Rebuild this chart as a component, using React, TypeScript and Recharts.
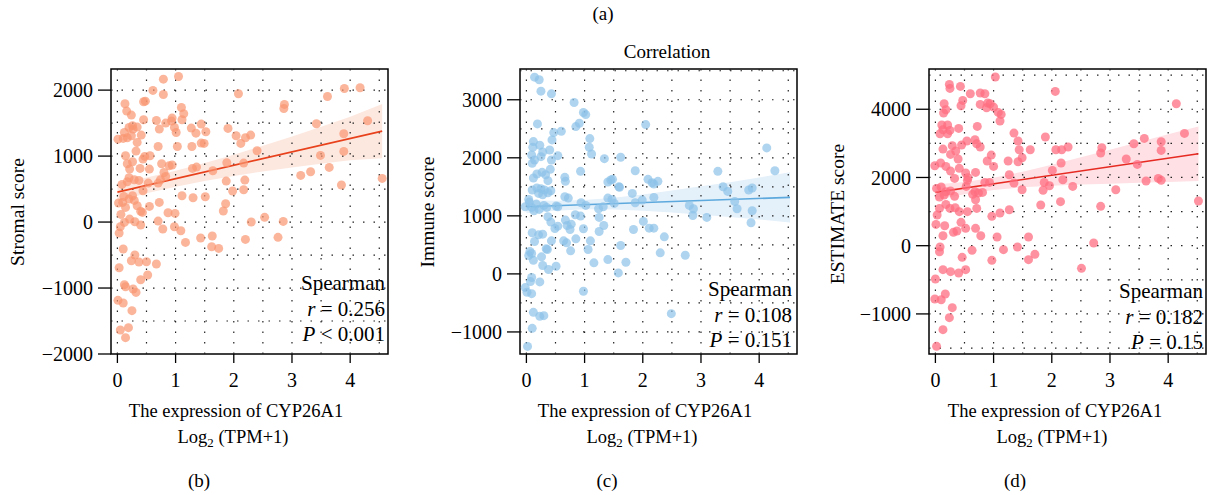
import { ComposedChart, Scatter, Line, Area, XAxis, YAxis, ReferenceLine, ReferenceArea } from 'recharts';

const FONT = '"Liberation Serif", "Times New Roman", serif';

// shared x axis
const X_DOMAIN = [-0.11, 4.65];
const X_TICKS = [0, 1, 2, 3, 4];
const X_GRID = [0, 0.5, 1, 1.5, 2, 2.5, 3, 3.5, 4, 4.5];

// (b) stromal score
const stromalPoints = [
  [1.05, 2207], [0.79, 2166], [0.61, 1995], [0.79, 1934], [2.08, 1944], [3.9, 2025], [4.17, 2035], [3.61, 1904],
  [2.87, 1783], [2.86, 1722], [0.48, 1833], [0.45, 1823], [0.13, 1793], [0.16, 1682], [0.24, 1621], [0.45, 1550],
  [0.67, 1540], [0.94, 1576], [0.93, 1530], [1.1, 1737], [1.14, 1641], [1.11, 1550], [0.83, 1500], [0.72, 1409],
  [0.98, 1434], [1.01, 1358], [1.27, 1424], [1.35, 1348], [1.44, 1485], [1.52, 1369], [1.9, 1419], [2.04, 1308],
  [2.2, 1278], [2.29, 1318], [2.12, 1192], [3.42, 1490], [4.3, 1535], [3.89, 1338], [3.89, 1071], [3.49, 1010],
  [3.64, 828], [3.32, 763], [3.15, 707], [3.85, 561], [4.55, 662], [2.4, 1081], [2.17, 894], [2.19, 636],
  [2.17, 490], [1.98, 470], [1.88, 899], [1.87, 621], [1.64, 778], [1.36, 833], [1.29, 813], [1.11, 399],
  [1.3, 369], [1.51, 384], [1.86, 278], [1.82, 167], [2.3, 0], [2.53, 71], [2.85, 10], [2.76, -232],
  [2.2, -263], [1.63, -212], [1.43, -242], [1.62, -374], [1.74, -399], [1.17, -308], [0.98, -71], [1.09, -131],
  [0.99, 131], [0.87, 141], [0.78, -106], [0.7, 15], [0.72, 298], [0.55, 237], [0.43, 146], [0.4, -45],
  [0.3, 5], [0.21, 45], [0.12, -5], [0.05, -71], [0.03, -167], [0.06, 116], [0.02, 288], [0.11, 389],
  [0.2, 348], [0.29, 328], [0.26, 399], [0.34, 247], [0.44, 475], [0.08, 571], [0.17, 611], [0.2, 672],
  [0.29, 641], [0.37, 631], [0.53, 591], [0.7, 591], [0.74, 641], [0.83, 692], [0.8, 752], [0.76, 884],
  [0.89, 853], [0.94, 864], [0.55, 803], [0.39, 813], [0.21, 803], [0.17, 884], [0.26, 914], [0.14, 1005],
  [0.32, 1076], [0.44, 954], [0.56, 1005], [0.47, 995], [0.7, 1146], [1.03, 1146], [1.28, 1146], [1.44, 1197],
  [1.49, 1192], [0.01, 1257], [0.1, 1268], [0.17, 1278], [0.24, 1308], [0.27, 1409], [0.26, 1459], [0.2, 1434],
  [0.12, 1358], [0.34, 1439], [0.41, 1318], [0.34, 1207], [0.09, 298], [0.14, 222], [0.4, 162], [0.03, -692],
  [0.1, -409], [0.3, -500], [0.24, -586], [0.37, -606], [0.5, -601], [0.67, -636], [0.52, -803], [0.4, -874],
  [0.12, -949], [0.14, -980], [0.27, -1015], [0.32, -1066], [0.01, -1187], [0.1, -1227], [0.25, -1343],
  [0.05, -1636], [0.19, -1601], [0.14, -1752],
];
const stromalFitX = [0, 4.55];
const stromalFitY = [454, 1378];
const stromalBandX = [0, 0.5, 1, 1.5, 2, 2.5, 3, 3.5, 4, 4.55];
const stromalBandLow = [314, 436, 537, 624, 700, 767, 828, 885, 936, 968];
const stromalBandHigh = [594, 676, 777, 894, 1020, 1157, 1298, 1445, 1596, 1788];
const stromalTicks = [-2000, -1000, 0, 1000, 2000];
const stromalTickLabels = ['−2000', '−1000', '0', '1000', '2000'];
const stromalGrid = [-1500, -1000, -500, 0, 500, 1000, 1500, 2000];
const stromalStats = ['Spearman', 'r = 0.256', 'P < 0.001'];

// (c) immune score
const immunePoints = [
  [0.14, 3390], [0.22, 3344], [0.25, 3148], [0.43, 3102], [0.82, 2952], [0.98, 2780], [1.02, 2745], [0.91, 2596],
  [0.85, 2538], [0.19, 2584], [2.05, 2572], [0.6, 2457], [0.47, 2434], [0.44, 2308], [1.09, 2331], [1.08, 2181],
  [1.12, 2066], [0.54, 2037], [0.4, 2135], [0.43, 1962], [0.41, 1801], [0.12, 2279], [0.11, 2181], [0.23, 2216],
  [0.09, 2049], [0.25, 2020], [0.14, 1962], [0.1, 1905], [0.28, 2100], [1.34, 1985], [1.62, 2009], [0.93, 1767],
  [0.66, 1663], [0.67, 1594], [0.27, 1750], [0.18, 1721], [0.33, 1709], [0.12, 1652], [0.37, 1606], [0.1, 1445],
  [0.18, 1479], [0.25, 1468], [0.31, 1445], [0.37, 1398], [0.42, 1433], [0.28, 1364], [0.21, 1387], [1.87, 1778],
  [1.4, 1583], [1.45, 1617], [1.48, 1629], [1.59, 1502], [1.6, 1491], [2.09, 1629], [2.16, 1571], [2.19, 1548],
  [2.26, 1594], [1.82, 1387], [1.87, 1226], [1.99, 1272], [2.19, 1318], [1.4, 1306], [1.47, 1283], [1.51, 1214],
  [0.72, 1306], [0.66, 1329], [0.94, 1226], [1.02, 1180], [0.54, 1157], [1.24, 1122], [1.32, 1157], [3.29, 1767],
  [3.38, 1502], [3.46, 1421], [3.58, 1249], [3.62, 1122], [3.82, 1445], [3.88, 1479], [4.13, 2170], [4.27, 1778],
  [3.88, 1088], [3.86, 881], [2.8, 1180], [2.87, 1122], [2.86, 1007], [3.1, 973], [-0.02, 1157], [0.05, 1237],
  [0.09, 1145], [0.17, 1203], [0.22, 1111], [0.3, 1180], [0.13, 1088], [0.04, 1283], [0.35, 1145], [0.51, 1168],
  [0.37, 984], [0.42, 892], [0.49, 783], [0.54, 823], [0.67, 927], [0.7, 834], [0.77, 857], [0.75, 765],
  [0.84, 1019], [0.93, 996], [0.98, 777], [1.25, 973], [1.33, 834], [1.25, 731], [1.84, 765], [2.01, 904],
  [2.11, 788], [2.19, 788], [2.37, 639], [1.62, 489], [2.3, 363], [2.73, 322], [1.71, 201], [1.4, 247],
  [1.16, 190], [1.58, 17], [1.1, 570], [1.06, 420], [0.85, 604], [0.69, 535], [0.64, 570], [0.76, 397],
  [0.1, 708], [0.14, 558], [0.21, 673], [0.28, 685], [0.43, 570], [0.34, 432], [0.36, 420], [0.06, 386],
  [0.04, 317], [0.12, 236], [0.09, 351], [0.26, 294], [0.28, 144], [0.38, 75], [0.51, 132], [0.09, -63],
  [0.07, -132], [0.23, -138], [-0.02, -236], [0.01, -317], [0.09, -340], [0.98, -299], [0.12, -662], [0.23, -731],
  [0.3, -719], [0.1, -938], [2.49, -685], [0.02, -1249],
];
const immuneFitX = [0, 4.53];
const immuneFitY = [1157, 1318];
const immuneBandX = [0, 0.5, 1, 1.5, 2, 2.5, 3, 3.5, 4, 4.53];
const immuneBandLow = [1047, 1090, 1113, 1110, 1088, 1056, 1019, 981, 939, 887];
const immuneBandHigh = [1267, 1260, 1273, 1310, 1368, 1436, 1509, 1581, 1659, 1750];
const immuneTicks = [-1000, 0, 1000, 2000, 3000];
const immuneTickLabels = ['−1000', '0', '1000', '2000', '3000'];
const immuneGrid = [-1000, -500, 0, 500, 1000, 1500, 2000, 2500, 3000, 3500];
const immuneStats = ['Spearman', 'r = 0.108', 'P = 0.151'];

// (d) ESTIMATE score
const estimatePoints = [
  [1.03, 4944], [2.06, 4523], [0.24, 4729], [0.25, 4611], [0.43, 4670], [0.6, 4455], [0.77, 4475], [0.85, 4455],
  [0.77, 4142], [0.9, 4182], [0.94, 4162], [1.0, 4064], [0.88, 4045], [0.47, 4260], [0.44, 4103], [0.15, 4162],
  [0.14, 3889], [0.18, 3986], [1.08, 3908], [1.13, 3849], [1.11, 3654], [4.14, 4162], [0.11, 3537], [0.21, 3537],
  [0.13, 3400], [0.25, 3380], [0.08, 3283], [0.21, 3283], [0.4, 3439], [0.72, 3498], [1.35, 3302], [1.42, 3068],
  [1.44, 2814], [1.63, 2814], [1.49, 2579], [1.42, 2462], [1.25, 2482], [1.89, 3185], [2.07, 2814], [2.17, 2814],
  [2.28, 2892], [2.16, 2423], [2.01, 2208], [2.86, 2872], [2.84, 2716], [3.28, 2540], [3.47, 2384], [3.41, 2990],
  [3.59, 3146], [3.88, 3048], [3.88, 2794], [4.28, 3292], [3.62, 1895], [3.83, 1973], [3.88, 1915], [4.52, 1309],
  [3.1, 1641], [2.84, 1153], [2.36, 1739], [2.19, 1934], [2.15, 1290], [1.96, 1759], [1.87, 1856], [1.85, 1622],
  [1.81, 1192], [1.27, 2081], [1.35, 1837], [1.49, 1641], [1.27, 1055], [1.11, 957], [0.97, 860], [0.69, 2149],
  [0.68, 3107], [0.71, 2990], [0.77, 2892], [0.54, 3068], [0.45, 2951], [0.29, 2931], [0.35, 2775], [0.13, 2833],
  [0.26, 2677], [0.39, 2540], [0.89, 2482], [0.96, 2657], [1.0, 2325], [-0.01, 2345], [0.09, 2423], [0.18, 2325],
  [0.26, 2188], [0.33, 1973], [0.41, 2267], [0.52, 2130], [0.56, 1993], [0.55, 1915], [0.68, 1583], [0.74, 1544],
  [0.81, 1563], [0.85, 1856], [0.93, 1856], [0.53, 1739], [0.02, 1680], [0.1, 1720], [0.18, 1583], [0.26, 1602],
  [0.15, 1485], [0.33, 1446], [0.07, 1426], [0.64, 1505], [0.69, 1348], [0.71, 1094], [0.18, 1211], [0.07, 1094],
  [0.25, 1094], [0.34, 1114], [0.41, 997], [0.55, 997], [0.03, 899], [0.01, 625], [0.16, 586], [0.31, 391],
  [0.37, 430], [0.44, 684], [0.52, 508], [0.69, 508], [0.78, 293], [1.06, 254], [1.17, -117], [1.41, -39],
  [1.6, 254], [1.71, -254], [1.6, -410], [0.97, -430], [0.63, -137], [0.46, -342], [0.52, -703], [0.4, -801],
  [0.26, -762], [0.13, -703], [0.08, -39], [0.07, -176], [0.13, 293], [2.51, -664], [2.72, 78], [0.0, -977],
  [-0.01, -1563], [0.1, -1583], [0.17, -1417], [0.29, -1817], [0.24, -2110], [0.13, -2462], [0.02, -2950],
];
const estimateFitX = [0, 4.52];
const estimateFitY = [1563, 2697];
const estimateBandX = [0, 0.5, 1, 1.5, 2, 2.5, 3, 3.5, 4, 4.52];
const estimateBandLow = [1333, 1509, 1634, 1710, 1755, 1791, 1816, 1842, 1867, 1893];
const estimateBandHigh = [1793, 1869, 1994, 2170, 2375, 2591, 2816, 3042, 3267, 3493];
const estimateTicks = [-2000, 0, 2000, 4000];
const estimateTickLabels = ['−1000', '0', '2000', '4000']; // as printed in the figure
const estimateGrid = [-3000, -2000, -1000, 0, 1000, 2000, 3000, 4000, 5000];
const estimateStats = ['Spearman', 'r = 0.182', 'P = 0.15'];

const CHART_H = 420;

function Panel(props) {
  const {
    left, width, yAxisWidth, points, fitX, fitY, bandX, bandLow, bandHigh,
    yDomain, yTicks, yTickLabels, yGrid, pointColor, pointOpacity, lineColor, bandColor,
  } = props;
  const scatterData = points.map(([x, y]) => ({ x, y }));
  const fitData = fitX.map((x, i) => ({ x, y: fitY[i] }));
  const bandData = bandX.map((x, i) => ({ x, range: [bandLow[i], bandHigh[i]] }));
  const plotRight = width - yAxisWidth - 277;

  return (
    <div style={{ position: 'absolute', left, top: 0 }}>
      <ComposedChart width={width} height={CHART_H} margin={{ top: 69, right: plotRight, bottom: 26, left: 0 }}>
        <XAxis
          dataKey="x"
          type="number"
          domain={X_DOMAIN}
          ticks={X_TICKS}
          allowDataOverflow
          height={40}
          axisLine={false}
          tickSize={9}
          tickMargin={10}
          tickLine={{ stroke: '#000', strokeWidth: 1.3 }}
          tick={{ fill: '#000', fontSize: 20, fontFamily: FONT }}
        />
        <YAxis
          type="number"
          domain={yDomain}
          ticks={yTicks}
          allowDataOverflow
          width={yAxisWidth}
          axisLine={false}
          tickSize={13}
          tickMargin={5}
          tickLine={{ stroke: '#000', strokeWidth: 1.3 }}
          tick={{ fill: '#000', fontSize: 20, fontFamily: FONT }}
          tickFormatter={(v) => yTickLabels[yTicks.indexOf(v)] ?? String(v)}
        />
        {X_GRID.map((g) => (
          <ReferenceLine key={'vx' + g} x={g} stroke="#222" strokeWidth={1.2} strokeDasharray="1.5 9" />
        ))}
        {yGrid.map((g) => (
          <ReferenceLine key={'hy' + g} y={g} stroke="#222" strokeWidth={1.2} strokeDasharray="1.5 9" />
        ))}
        <Area
          data={bandData}
          dataKey="range"
          type="linear"
          stroke="none"
          fill={bandColor}
          fillOpacity={1}
          isAnimationActive={false}
        />
        <Scatter
          data={scatterData}
          dataKey="y"
          isAnimationActive={false}
          shape={(p) => <circle cx={p.cx} cy={p.cy} r={4.5} fill={pointColor} fillOpacity={pointOpacity} />}
        />
        <Line data={fitData} dataKey="y" type="linear" stroke={lineColor} strokeWidth={1.6} dot={false} isAnimationActive={false} />
        <ReferenceArea
          x1={X_DOMAIN[0]}
          x2={X_DOMAIN[1]}
          y1={yDomain[0]}
          y2={yDomain[1]}
          fill="none"
          fillOpacity={0}
          stroke="#000"
          strokeWidth={1.5}
        />
      </ComposedChart>
    </div>
  );
}

const textBase = { position: 'absolute', fontFamily: FONT, color: '#000', whiteSpace: 'nowrap' } as const;

function Centered({ x, y, size = 19, children }) {
  return (
    <div style={{ ...textBase, left: x, top: y, fontSize: size, transform: 'translate(-50%, -50%)' }}>{children}</div>
  );
}

function YTitle({ x, y, children }) {
  return (
    <div style={{ ...textBase, left: x, top: y, fontSize: 19.5, transform: 'translate(-50%, -50%) rotate(-90deg)' }}>
      {children}
    </div>
  );
}

function Stats({ right, top, lines }) {
  const [title, r, p] = lines;
  return (
    <div style={{ ...textBase, right: 1207 - right, top, fontSize: 21, lineHeight: '25.5px', textAlign: 'right' }}>
      <div>{title}</div>
      <div><i>r</i>{r.slice(1)}</div>
      <div><i>P</i>{p.slice(1)}</div>
    </div>
  );
}

function XTitle({ x }) {
  return (
    <>
      <Centered x={x} y={411} size={18.5}>The expression of CYP26A1</Centered>
      <Centered x={x - 3} y={437} size={18.5}>
        Log<sub style={{ fontSize: '0.7em', lineHeight: 0 }}>2</sub> (TPM+1)
      </Centered>
    </>
  );
}

export default function App() {
  return (
    <div style={{ position: 'absolute', left: 0, top: 0, width: 1207, height: 495, background: '#fff', overflow: 'hidden' }}>
      <Panel
        left={0}
        width={400}
        yAxisWidth={111}
        points={stromalPoints}
        fitX={stromalFitX}
        fitY={stromalFitY}
        bandX={stromalBandX}
        bandLow={stromalBandLow}
        bandHigh={stromalBandHigh}
        yDomain={[-2000, 2320]}
        yTicks={stromalTicks}
        yTickLabels={stromalTickLabels}
        yGrid={stromalGrid}
        pointColor="#FA9670"
        pointOpacity={0.7}
        lineColor="#E8421C"
        bandColor="#FDE8E0"
      />
      <Panel
        left={410}
        width={400}
        yAxisWidth={110}
        points={immunePoints}
        fitX={immuneFitX}
        fitY={immuneFitY}
        bandX={immuneBandX}
        bandLow={immuneBandLow}
        bandHigh={immuneBandHigh}
        yDomain={[-1380, 3530]}
        yTicks={immuneTicks}
        yTickLabels={immuneTickLabels}
        yGrid={immuneGrid}
        pointColor="#8CC2E8"
        pointOpacity={0.7}
        lineColor="#5DA9DD"
        bandColor="#E4F0FA"
      />
      <Panel
        left={820}
        width={387}
        yAxisWidth={109}
        points={estimatePoints}
        fitX={estimateFitX}
        fitY={estimateFitY}
        bandX={estimateBandX}
        bandLow={estimateBandLow}
        bandHigh={estimateBandHigh}
        yDomain={[-3175, 5180]}
        yTicks={estimateTicks}
        yTickLabels={estimateTickLabels}
        yGrid={estimateGrid}
        pointColor="#FF6E80"
        pointOpacity={0.75}
        lineColor="#E62A22"
        bandColor="#FFE0E4"
      />

      <Centered x={603} y={14}>(a)</Centered>
      <Centered x={667} y={52}>Correlation</Centered>

      <YTitle x={18} y={212}>Stromal score</YTitle>
      <YTitle x={428} y={212}>Immune score</YTitle>
      <YTitle x={838} y={214}>ESTIMATE score</YTitle>

      <Stats right={385} top={271} lines={stromalStats} />
      <Stats right={792} top={277} lines={immuneStats} />
      <Stats right={1203} top={279} lines={estimateStats} />

      <XTitle x={236} />
      <XTitle x={645} />
      <XTitle x={1055} />

      <Centered x={199} y={481}>(b)</Centered>
      <Centered x={607} y={481}>(c)</Centered>
      <Centered x={1015} y={481}>(d)</Centered>
    </div>
  );
}
